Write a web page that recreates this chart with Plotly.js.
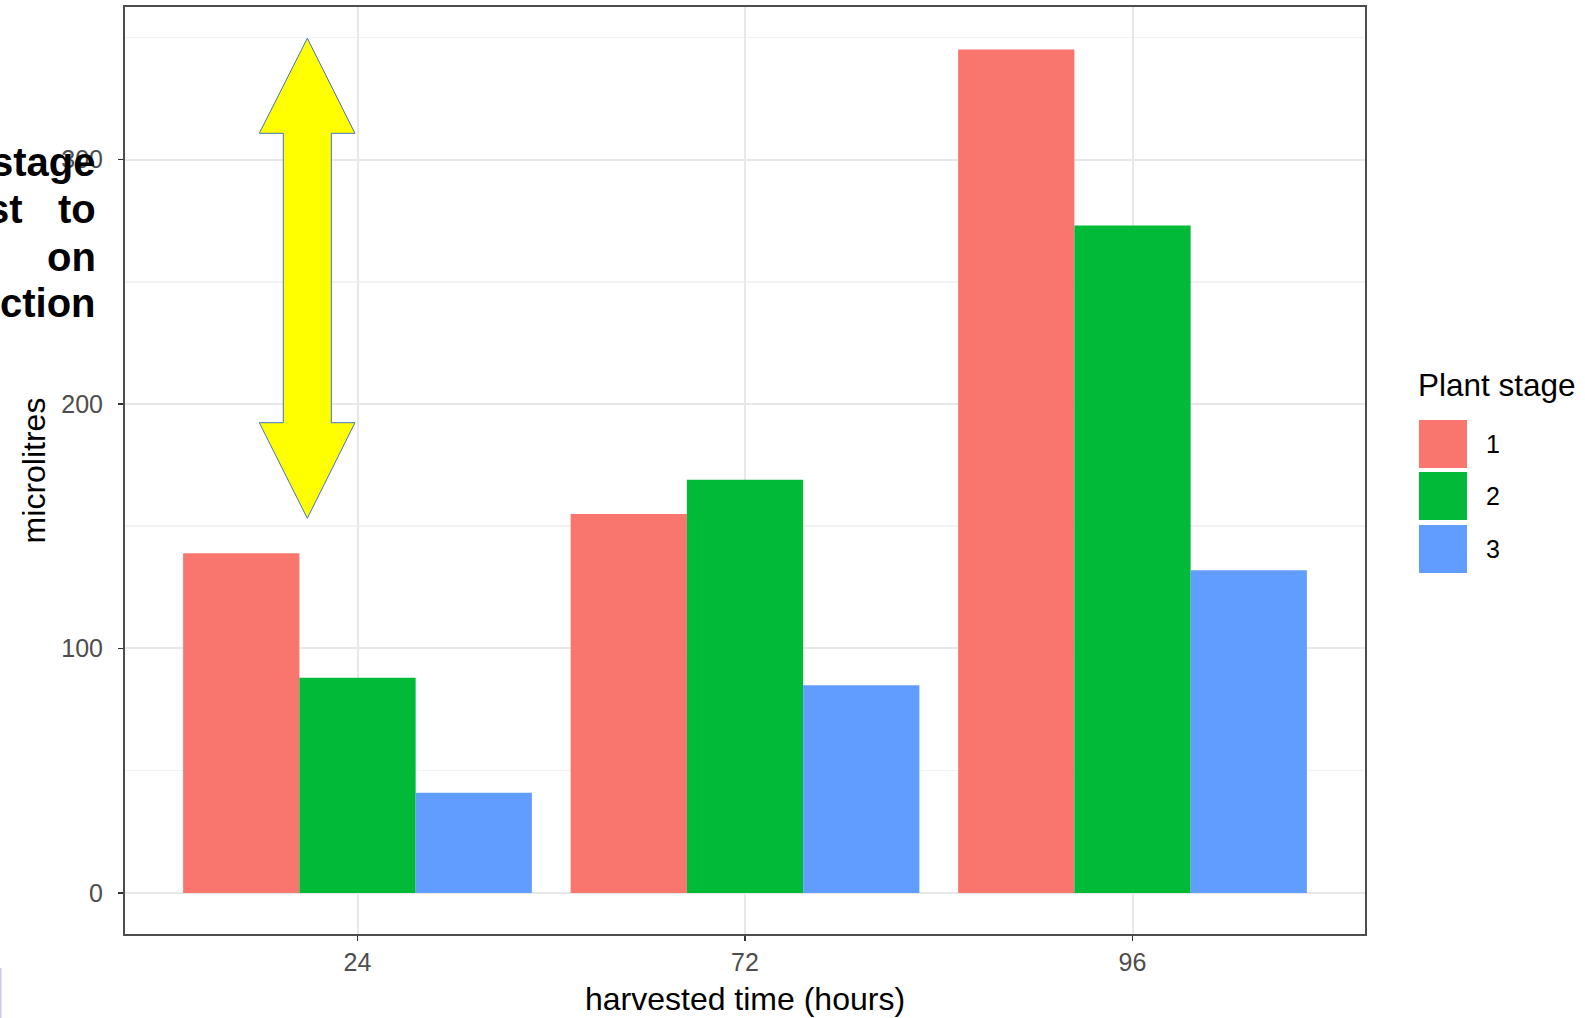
<!DOCTYPE html>
<html>
<head>
<meta charset="utf-8">
<script src="https://cdn.plot.ly/plotly-3.0.1.min.js"></script>
<style>html,body{margin:0;padding:0;background:#fff;}#chart{width:1585px;height:1018px;}</style>
</head>
<body>
<div id="chart"></div>
<script>
// Data
const categories = ["24", "72", "96"];
const stageNames = ["1", "2", "3"];
const stage1 = [139, 155, 345];
const stage2 = [88, 169, 273];
const stage3 = [41, 85, 132];
const colors = ["#F8766D", "#00BA38", "#619CFF"];
const yTickVals = [0, 100, 200, 300];
const annotationLines = ["stage", "on", "ction"];

// Layout geometry (pixels)
const W = 1585, H = 1018;
const L = 125, R = 1365, T = 7, B = 934;
const pw = R - L, ph = B - T;
const px = x => (x - L) / pw;
const py = y => (B - y) / ph;

const series = [stage1, stage2, stage3];
const traces = series.map((vals, i) => ({
  type: "bar",
  name: stageNames[i],
  x: categories,
  y: vals,
  marker: {color: colors[i], line: {width: 0}},
  showlegend: false,
  hoverinfo: "x+y+name"
}));

// Yellow double arrow path in paper coordinates
function P(x, y) { return px(x).toFixed(5) + "," + py(y).toFixed(5); }
const arrowPath = "M" + P(307.3, 38.3) + " L" + P(355, 133.3) + " L" + P(331.3, 133.3) +
  " L" + P(331.3, 422.7) + " L" + P(355, 422.7) + " L" + P(307.3, 518.3) +
  " L" + P(259.3, 422.7) + " L" + P(283.3, 422.7) + " L" + P(283.3, 133.3) +
  " L" + P(259.3, 133.3) + " Z";

const shapes = [
  {type: "path", xref: "paper", yref: "paper", path: arrowPath,
   fillcolor: "#FFFF00", line: {color: "#4472C4", width: 1}, layer: "above"},
  // stray vertical line at bottom-left edge
  {type: "line", xref: "paper", yref: "paper", x0: px(0.8), x1: px(0.8), y0: py(968), y1: py(1018),
   line: {color: "#C8C8F0", width: 1.5}}
];

// Legend keys
const keyTops = [420, 472, 525];
keyTops.forEach((t, i) => {
  shapes.push({type: "rect", xref: "paper", yref: "paper",
    x0: px(1419), x1: px(1467), y0: py(t + 48), y1: py(t),
    fillcolor: colors[i], line: {width: 0}});
});

const annFont = {family: "Liberation Sans, Arial, sans-serif", size: 40, color: "#000000"};
const annotations = [
  {xref: "paper", yref: "paper", x: px(1416), y: py(385), text: "Plant stage", showarrow: false,
   xanchor: "left", yanchor: "middle", font: {family: "Liberation Sans, Arial, sans-serif", size: 31.5, color: "#000000"}}
];
stageNames.forEach((s, i) => {
  annotations.push({xref: "paper", yref: "paper", x: px(1484), y: py(keyTops[i] + 24), text: s,
    showarrow: false, xanchor: "left", yanchor: "middle",
    font: {family: "Liberation Sans, Arial, sans-serif", size: 25, color: "#000000"}});
});
// Cut-off annotation text
const lineY = [162, 257, 303];
annotationLines.forEach((t, i) => {
  annotations.push({xref: "paper", yref: "paper", x: px(98), y: py(lineY[i]), text: "<b>" + t + "</b>",
    showarrow: false, xanchor: "right", yanchor: "middle", font: annFont});
});
annotations.push({xref: "paper", yref: "paper", x: px(25), y: py(209), text: "<b>st</b>",
  showarrow: false, xanchor: "right", yanchor: "middle", font: annFont});
annotations.push({xref: "paper", yref: "paper", x: px(98), y: py(209), text: "<b>to</b>",
  showarrow: false, xanchor: "right", yanchor: "middle", font: annFont});

const layout = {
  width: W, height: H,
  margin: {l: L, r: W - R, t: T, b: H - B, pad: 0},
  paper_bgcolor: "#FFFFFF",
  plot_bgcolor: "#FFFFFF",
  barmode: "group",
  bargap: 0.1,
  bargroupgap: 0,
  showlegend: false,
  font: {family: "Liberation Sans, Arial, sans-serif", color: "#4D4D4D"},
  xaxis: {
    type: "category",
    range: [-0.6, 2.6],
    showgrid: true, gridcolor: "#E8E8E8", gridwidth: 2,
    showline: true, linecolor: "#4D4D4D", linewidth: 2, mirror: true,
    ticks: "outside", ticklen: 5, tickcolor: "#333333", tickwidth: 1.5,
    tickfont: {size: 25, color: "#4D4D4D"},
    zeroline: false,
    title: {text: "harvested time (hours)", font: {size: 32, color: "#000000"}, standoff: 13}
  },
  yaxis: {
    range: [-16.8, 362.4],
    tickvals: yTickVals,
    showgrid: true, gridcolor: "#E8E8E8", gridwidth: 2,
    minor: {tick0: 0, dtick: 50, showgrid: true, gridcolor: "#F2F2F2", gridwidth: 1.5, ticks: ""},
    showline: true, linecolor: "#4D4D4D", linewidth: 2, mirror: true,
    ticks: "outside", ticklen: 5, tickcolor: "#333333", tickwidth: 1.5,
    tickfont: {size: 25, color: "#4D4D4D"},
    ticklabelstandoff: 10,
    zeroline: false,
    title: {text: "microlitres", font: {size: 32, color: "#000000"}, standoff: 6}
  },
  shapes: shapes,
  annotations: annotations
};

Plotly.newPlot("chart", traces, layout, {displayModeBar: false, staticPlot: true});
</script>
</body>
</html>
